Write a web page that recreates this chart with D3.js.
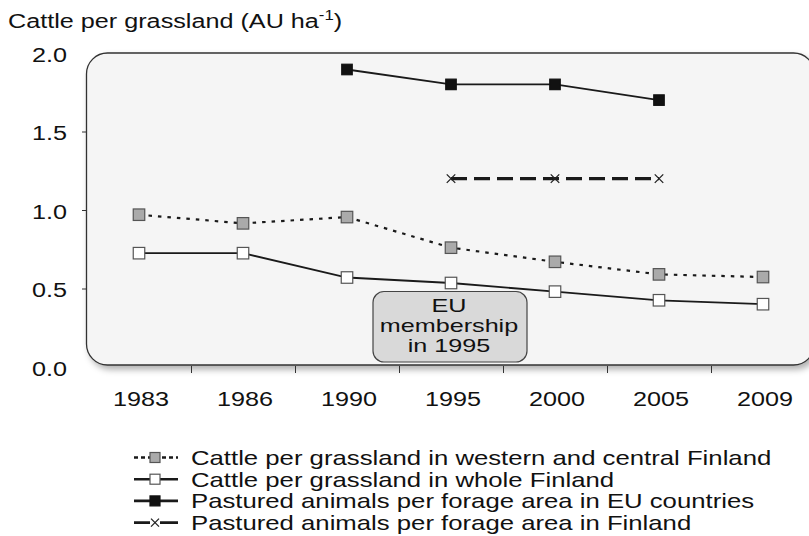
<!DOCTYPE html>
<html>
<head>
<meta charset="utf-8">
<script src="https://cdn.jsdelivr.net/npm/d3@7"></script>
<style>
body { margin: 0; background: #fff; }
svg { display: block; font-family: "Liberation Sans", Arial, Helvetica, sans-serif; fill: #111; }
</style>
</head>
<body>
<svg id="chart" width="809" height="536"></svg>
<script>
var years = ["1983", "1986", "1990", "1995", "2000", "2005", "2009"];
var yTicks = [0, 0.5, 1.0, 1.5, 2.0];
var westCentral = [0.97, 0.915, 0.955, 0.76, 0.67, 0.59, 0.573];
var wholeFinland = [0.725, 0.725, 0.57, 0.535, 0.48, 0.425, 0.40];
var euPastured = [null, null, 1.895, 1.80, 1.80, 1.70, null];
var finPastured = [null, null, null, 1.20, 1.20, 1.20, null];
var legendLabels = [
	"Cattle per grassland in western and central Finland",
	"Cattle per grassland in whole Finland",
	"Pastured animals per forage area in EU countries",
	"Pastured animals per forage area in Finland"
];
var noteLines = ["EU", "membership", "in 1995"];

// the original's lettering is stretched sideways
var stretch = 1.2;

var svg = d3.select("#chart");

var x = d3.scaleBand()
    .domain(years)
    .range([87, 815]);
var y = d3.scaleLinear()
    .domain([0, 2])
    .range([367, 53]);

var xc = function (yr) { return x(yr) + x.bandwidth() / 2; };

var series = [
	{ values: westCentral, marker: "square", fill: "#aaaaaa", size: 11.5, width: 2.2, dash: "3.5,6", legendDash: "4,3" },
	{ values: wholeFinland, marker: "square", fill: "#ffffff", size: 11.5, width: 1.8, dash: null, legendDash: null },
	{ values: euPastured, marker: "square", fill: "#111111", size: 10.5, width: 1.8, dash: null, legendDash: null },
	{ values: finPastured, marker: "cross", fill: "none", size: 8.5, width: 3.2, dash: "16,7", legendDash: null }
];

function stretchText(parent, px, py, str, anchor, size, sx) {
	return parent.append("text")
	    .attr("transform", "translate(" + px + "," + py + ") scale(" + (sx || stretch) + ",1)")
	    .attr("text-anchor", anchor || "start")
	    .style("font-size", (size || 21) + "px")
	    .text(str);
}

function drawMarker(parent, s, cx, cy) {
	var h = s.size / 2;
	if (s.marker === "square") {
		parent.append("rect")
		    .attr("x", cx - h)
		    .attr("y", cy - h)
		    .attr("width", s.size)
		    .attr("height", s.size)
		    .style("fill", s.fill)
		    .style("stroke", s.fill === "#111111" ? "#111" : "#555")
		    .style("stroke-width", 1.2);
	} else {
		parent.append("path")
		    .attr("d", "M" + (cx - h) + "," + (cy - h) + "L" + (cx + h) + "," + (cy + h) +
		               "M" + (cx - h) + "," + (cy + h) + "L" + (cx + h) + "," + (cy - h))
		    .style("fill", "none")
		    .style("stroke", "#222")
		    .style("stroke-width", 1.3);
	}
}

// shadow for the plot frame
var defs = svg.append("defs");
defs.append("filter")
    .attr("id", "shadow")
    .attr("x", "-10%").attr("y", "-10%")
    .attr("width", "130%").attr("height", "130%")
  .append("feDropShadow")
    .attr("dx", 3)
    .attr("dy", 4)
    .attr("stdDeviation", 3)
    .attr("flood-color", "#000")
    .attr("flood-opacity", 0.3);

svg.append("rect")
    .attr("x", 86.5)
    .attr("y", y(2))
    .attr("width", 728)
    .attr("height", 365 - y(2))
    .attr("rx", 21)
    .style("fill", "#f5f5f5")
    .style("stroke", "#333")
    .style("stroke-width", 1.3)
    .attr("filter", "url(#shadow)");

// title
var title = svg.append("text")
    .attr("transform", "translate(8,28) scale(" + stretch + ",1)")
    .style("font-size", "21px");
title.append("tspan").text("Cattle per grassland (AU ha");
title.append("tspan").attr("dy", -8).style("font-size", "14px").text("-1");
title.append("tspan").attr("dy", 8).text(")");

// y axis
var yAxis = svg.append("g")
    .attr("transform", "translate(87,0)")
    .call(d3.axisLeft(y).tickValues(yTicks).tickFormat(d3.format(".1f")).tickSize(5));
yAxis.select(".domain").remove();
yAxis.selectAll(".tick line")
    .style("stroke", "#333")
    .style("display", function (d) { return (d === 0 || d === 2) ? "none" : null; });
yAxis.selectAll(".tick text")
    .attr("x", null)
    .attr("dy", null)
    .attr("transform", "translate(-20,8) scale(" + stretch + ",1)")
    .style("font-size", "21px")
    .style("font-family", "inherit")
    .style("fill", "#111");

// x axis: ticks sit between categories
svg.append("g").selectAll("line")
    .data(years.slice(1))
  .enter().append("line")
    .attr("x1", function (d) { return Math.round(x(d)) + 0.5; })
    .attr("x2", function (d) { return Math.round(x(d)) + 0.5; })
    .attr("y1", 366)
    .attr("y2", 373)
    .style("stroke", "#333");

var xAxis = svg.append("g")
    .attr("transform", "translate(0,366)")
    .call(d3.axisBottom(x).tickSize(0));
xAxis.select(".domain").remove();
xAxis.selectAll(".tick text")
    .attr("y", null)
    .attr("dy", null)
    .attr("transform", "translate(2,40) scale(" + stretch + ",1)")
    .style("font-size", "21px")
    .style("font-family", "inherit")
    .style("fill", "#111");

// EU note box
var note = svg.append("g");
note.append("rect")
    .attr("x", xc("1995") - 78)
    .attr("y", 291.5)
    .attr("width", 154)
    .attr("height", 70.5)
    .attr("rx", 11)
    .style("fill", "#d9d9d9")
    .style("stroke", "#444")
    .style("stroke-width", 1.2);
noteLines.forEach(function (t, i) {
	stretchText(note, xc("1995") - 2, 312 + i * 20, t, "middle", 18.5, 1.36);
});

// series lines then markers
var line = d3.line()
    .defined(function (d) { return d.v !== null; })
    .x(function (d) { return xc(d.year); })
    .y(function (d) { return y(d.v); });

series.forEach(function (s) {
	var pts = years.map(function (yr, i) { return { year: yr, v: s.values[i] }; });
	svg.append("path")
	    .datum(pts)
	    .attr("d", line)
	    .style("fill", "none")
	    .style("stroke", "#1a1a1a")
	    .style("stroke-width", s.width)
	    .style("stroke-dasharray", s.dash);
});

series.forEach(function (s) {
	var g = svg.append("g");
	years.forEach(function (yr, i) {
		if (s.values[i] !== null) {
			drawMarker(g, s, xc(yr), y(s.values[i]));
		}
	});
});

// legend
var legend = svg.append("g");
legendLabels.forEach(function (label, i) {
	var s = series[i];
	var base = 465 + i * 21.7;
	var cy = base - 7.5;
	if (s.marker === "cross") {
		legend.append("path")
		    .attr("d", "M134," + cy + "H150M160," + cy + "H178")
		    .style("stroke", "#1a1a1a")
		    .style("stroke-width", 2.8);
	} else {
		legend.append("line")
		    .attr("x1", 134).attr("x2", 178)
		    .attr("y1", cy).attr("y2", cy)
		    .style("stroke", "#1a1a1a")
		    .style("stroke-width", 2.6)
		    .style("stroke-dasharray", s.legendDash);
	}
	drawMarker(legend, { marker: s.marker, fill: s.fill, size: s.marker === "cross" ? 8 : 10 }, 155, cy);
	stretchText(legend, 191, base, label, "start", 21, 1.225);
});
</script>
</body>
</html>
